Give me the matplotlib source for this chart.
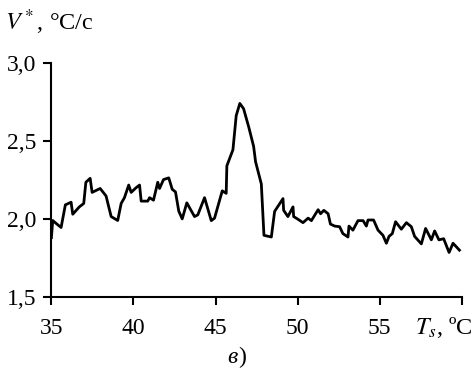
import matplotlib
matplotlib.use("Agg")
import matplotlib.pyplot as plt

plt.rcParams['font.family'] = ['Liberation Serif', 'DejaVu Serif']
plt.rcParams['mathtext.fontset'] = 'stix'

# values
ts = [35.0, 35.08, 35.3, 35.59, 35.85, 36.2, 36.3, 36.7, 36.97, 37.1, 37.36, 37.48,
      37.97, 38.33, 38.64, 39.04, 39.25, 39.45, 39.71, 39.86, 40.16, 40.37, 40.47,
      40.87, 40.98, 41.22, 41.48, 41.59, 41.83, 42.15, 42.36, 42.56, 42.76, 42.97,
      43.25, 43.72, 43.92, 44.33, 44.74, 44.94, 45.41, 45.65, 45.69, 46.06, 46.26,
      46.48, 46.71, 47.03, 47.32, 47.44, 47.79, 47.95, 48.4, 48.6, 49.11, 49.15,
      49.41, 49.72, 49.76, 50.02, 50.33, 50.64, 50.84, 51.25, 51.4, 51.6, 51.86,
      52.0, 52.26, 52.56, 52.76, 53.07, 53.13, 53.37, 53.68, 53.99, 54.19, 54.29,
      54.63, 54.9, 55.2, 55.41, 55.57, 55.77, 55.97, 56.32, 56.63, 56.93, 57.13,
      57.54, 57.8, 58.15, 58.35, 58.61, 58.9, 59.23, 59.47, 59.86]
v = [1.88, 1.99, 1.97, 1.945, 2.09, 2.107, 2.03, 2.077, 2.099, 2.235, 2.26, 2.17,
     2.195, 2.147, 2.015, 1.99, 2.099, 2.136, 2.217, 2.17, 2.2, 2.217, 2.114,
     2.114, 2.136, 2.12, 2.235, 2.195, 2.252, 2.263, 2.19, 2.173, 2.05, 2.0,
     2.103, 2.015, 2.026, 2.136, 1.989, 2.005, 2.18, 2.164, 2.34, 2.443, 2.662,
     2.74, 2.706, 2.586, 2.465, 2.366, 2.224, 1.895, 1.884, 2.048, 2.13, 2.055,
     2.015, 2.077, 2.015, 1.998, 1.976, 2.005, 1.989, 2.059, 2.033, 2.055, 2.033,
     1.967, 1.954, 1.95, 1.906, 1.884, 1.954, 1.928, 1.989, 1.989, 1.954, 1.993,
     1.993, 1.928, 1.895, 1.844, 1.888, 1.906, 1.982, 1.934, 1.976, 1.95, 1.888,
     1.84, 1.939, 1.866, 1.923, 1.866, 1.873, 1.785, 1.844, 1.8]

xticks = [35, 40, 45, 50, 55, 60]
xlabels = ['35', '40', '45', '50', '55', '']
yticks = [1.5, 2.0, 2.5, 3.0]
ylabels = ['1,5', '2,0', '2,5', '3,0']

fig = plt.figure(figsize=(4.76, 3.74), dpi=100)
ax = fig.add_axes([0.108, 0.206, 0.862, 0.626])
ax.plot(ts, v, color='black', lw=2)

ax.set_xlim(35, 60)
ax.set_ylim(1.5, 3.0)
ax.set_xticks(xticks)
ax.set_xticklabels(xlabels)
ax.set_yticks(yticks)
ax.set_yticklabels(ylabels)
ax.tick_params(labelsize=17, width=1.5, length=6, direction='out')
ax.tick_params(axis='x', pad=9)
ax.tick_params(axis='y', pad=5)
for s in ['top', 'right']:
    ax.spines[s].set_visible(False)
for s in ['left', 'bottom']:
    ax.spines[s].set_linewidth(1.5)

fig.text(0.992, 0.125, r'$T_s$, ºC', fontsize=17.5, ha='right', va='center')
fig.text(0.01, 0.94, r'$V^*$, °C/c', fontsize=17.5, ha='left', va='center')
fig.text(0.5, 0.045, 'в', fontsize=17, fontstyle='italic', ha='right', va='center')
fig.text(0.5, 0.045, ')', fontsize=17, ha='left', va='center')

fig.savefig('out.png', dpi=100)
